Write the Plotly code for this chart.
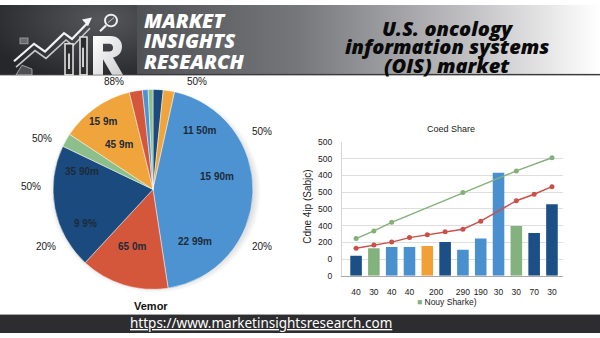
import base64
import plotly.graph_objects as go

W, H = 600, 338

# ---- pie data (shares in percent, clockwise from 12 o'clock) ----
pie_labels = ["Vendor A", "Vendor B", "Vendor C", "Vendor D", "Vendor E",
              "Vendor F", "Vendor G", "Vendor H", "Vendor I", "Vendor J"]
pie_values = [1.64, 1.83, 44.1, 14.3, 20.2, 2.19, 11.9, 2.11, 0.92, 0.78]
pie_colors = ["#1b4b7e", "#f0a43c", "#4d93d1", "#d5573b", "#1b4b7e",
              "#8cbf8c", "#f0a43c", "#d5573b", "#4d93d1", "#8cbf8c"]

pie_inner_text = ["11 50m", "15 90m", "22 99m", "65 0m", "9 9%", "35 90m", "45 9m", "15 9m"]
pie_inner_pos = [(199, 129), (217, 177), (195, 244), (132, 249), (85, 225),
                 (82, 172), (119, 144), (103, 120)]
pie_outer_text = ["88%", "50%", "50%", "50%", "50%", "20%", "20%"]
pie_outer_pos = [(114, 79), (197, 79), (262, 130), (42, 138), (31, 187), (46, 249), (262, 249)]

# ---- bar / line data ----
bar_x = [1, 2, 3, 4, 5, 6, 7, 8, 9, 10, 11, 12]
bar_values = [120, 164, 172, 172, 178, 201, 155, 222, 616, 297, 255, 427]
bar_colors = ["#1c4f86", "#83b27f", "#4a90cf", "#4a90cf", "#f29f35", "#1c4f86",
              "#4a90cf", "#4a90cf", "#4a90cf", "#83b27f", "#1c4f86", "#1c4f86"]

green_x = [1, 2, 3, 7, 10, 12]
green_values = [222, 268, 319, 497, 626, 705]

red_x = [1, 2, 3, 4, 5, 6, 7, 8, 10, 11, 12]
red_values = [164, 184, 201, 228, 245, 263, 278, 326, 448, 487, 532]

x_tick_pos = [1, 2, 3, 4, 5.5, 7, 8, 9, 10, 11, 12]
x_tick_text = ["40", "30", "40", "40", "200", "290", "190", "30", "30", "70", "30"]
y_tick_vals = [0, 100, 200, 300, 400, 500, 600, 700, 800]
y_tick_text = ["0", "0", "200", "400", "500", "500", "400", "500", "500"]


def px(x, y):
    return x / W, 1 - y / H


# ---- header / footer background artwork (logo drawn as vector shapes) ----
header_svg = f'''<svg xmlns="http://www.w3.org/2000/svg" width="600" height="338" viewBox="0 0 600 338" preserveAspectRatio="none">
<defs>
<linearGradient id="g" x1="0" y1="0" x2="1" y2="0">
<stop offset="0" stop-color="#505155"/><stop offset="0.35" stop-color="#76777b"/>
<stop offset="0.7" stop-color="#bdbdc0"/><stop offset="1" stop-color="#ffffff"/>
</linearGradient>
<radialGradient id="d" cx="0.75" cy="0.2" r="0.9">
<stop offset="0" stop-color="#56575b"/><stop offset="1" stop-color="#26272a"/>
</radialGradient>
<linearGradient id="r" x1="0" y1="0" x2="1" y2="1">
<stop offset="0" stop-color="#ffffff"/><stop offset="1" stop-color="#cfcfd2"/>
</linearGradient>
<radialGradient id="s" cx="0.5" cy="0.5" r="0.5">
<stop offset="0.9" stop-color="#000000" stop-opacity="0.18"/><stop offset="1" stop-color="#000000" stop-opacity="0"/>
</radialGradient>
</defs>
<rect x="136" y="0" width="464" height="72" fill="url(#g)"/>
<rect x="0" y="0" width="137" height="72" fill="url(#d)"/>
<rect x="0" y="71" width="600" height="1.5" fill="#3a3a3c"/>
<polyline points="14,58 34,40 45,48 64,29 72,35 88,18" fill="none" stroke="#f2f2f2" stroke-width="2.2"/>
<polyline points="16,64 35,47 46,55 66,36 73,42 90,24" fill="none" stroke="#c9c9c9" stroke-width="1.6"/>
<polygon points="92,13 82,15 88,22" fill="#f4f4f4"/>
<rect x="65" y="40" width="8" height="32" fill="#2c2c2f" stroke="#e6e6e6" stroke-width="1.5"/>
<rect x="80" y="33" width="7" height="39" fill="#2c2c2f" stroke="#e6e6e6" stroke-width="1.5"/>
<rect x="68" y="50" width="2" height="16" fill="#cfcfcf"/>
<rect x="82" y="44" width="2" height="20" fill="#cfcfcf"/>
<path fill="url(#r)" fill-rule="evenodd" d="M93,32 H110 C118,32 122,37 122,43 C122,49 118,53 113,54 L123,72 H112 L103,56 V72 H93 Z M103,40 H109 C112,40 113,42 113,44 C113,46 112,48 109,48 H103 Z"/>
<circle cx="111" cy="16" r="6" fill="none" stroke="#eeeeee" stroke-width="2"/>
<line x1="106" y1="21" x2="100" y2="27" stroke="#eeeeee" stroke-width="2.2"/>
<line x1="108" y1="18" x2="114" y2="13" stroke="#cccccc" stroke-width="1"/>
<rect x="20" y="34" width="8" height="6" fill="#6a6a6e" stroke="#aaaaaa" stroke-width="0.8"/>
<polygon points="16,72 22,62 32,66 32,72" fill="#505054" stroke="#bbbbbb" stroke-width="0.8"/>
<ellipse cx="155" cy="192" rx="106" ry="105" fill="url(#s)"/>
<rect x="0" y="319" width="600" height="19" fill="#2d2d2f"/>
</svg>'''
header_uri = "data:image/svg+xml;base64," + base64.b64encode(header_svg.encode()).decode()

fig = go.Figure()

fig.add_trace(go.Pie(
    labels=pie_labels, values=pie_values, sort=False, direction="clockwise",
    rotation=0, textinfo="none", hoverinfo="label+percent",
    marker=dict(colors=pie_colors, line=dict(color="rgba(255,255,255,0.6)", width=0.8)),
    domain=dict(x=[48 / W, 258 / W], y=[1 - 293 / H, 1 - 87 / H]),
    showlegend=False,
))

fig.add_trace(go.Bar(
    x=bar_x, y=bar_values, marker=dict(color=bar_colors, line=dict(width=0)),
    width=0.65, showlegend=False, xaxis="x", yaxis="y",
))
fig.add_trace(go.Scatter(
    x=green_x, y=green_values, mode="lines+markers",
    line=dict(color="#86b07a", width=1.4), marker=dict(color="#86b07a", size=5),
    showlegend=False,
))
fig.add_trace(go.Scatter(
    x=red_x, y=red_values, mode="lines+markers",
    line=dict(color="#c9504a", width=1.4), marker=dict(color="#c9504a", size=5),
    showlegend=False,
))

ann = []
TF = "Liberation Sans, Arial, sans-serif"


def label(x, y, text, font, **kw):
    ax, ay = px(x, y)
    d = dict(x=ax, y=ay, text=text, showarrow=False, xref="paper", yref="paper",
             xanchor="center", yanchor="middle", font=font)
    d.update(kw)
    ann.append(d)


for t, (x, y) in zip(pie_inner_text, pie_inner_pos):
    label(x, y, t, dict(family=TF, size=10, color="#1d2a3a", weight="bold"))
for t, (x, y) in zip(pie_outer_text, pie_outer_pos):
    label(x, y, t, dict(family=TF, size=10, color="#1a1a1a"))

label(151, 310, "Vemor", dict(family=TF, size=11, color="#111111", weight="bold"))

# bar chart labels
label(451, 128, "Coed Share", dict(family=TF, size=9, color="#222222"))
label(308, 208, "Cdne 4ip (Sabjc)", dict(family=TF, size=10, color="#222222"), textangle=-90)
label(447, 306, "<span style='color:#83b27f'>■</span> Nouy Sharke)",
      dict(family=TF, size=8.5, color="#222222"))

# header text
OS = "Open Sans, DejaVu Sans, sans-serif"
for t, y in zip(["MARKET", "INSIGHTS", "RESEARCH"], [16, 37, 58]):
    label(142, y, f"<i>{t}</i>", dict(family=OS, size=20, color="#ffffff", weight=800),
          xanchor="left")
for t, y in zip(["U.S. oncology", "information systems", "(OIS) market"], [24, 43, 62]):
    label(447, y, f"<i>{t}</i>", dict(family=OS, size=20, color="#0a0a0a", weight=800))

# footer link
label(261, 328, "<u>https://www.marketinsightsresearch.com</u>",
      dict(family="Noto Sans, sans-serif", size=13.5, color="#ffffff"))

fig.update_layout(
    width=W, height=H, margin=dict(l=0, r=0, t=0, b=0),
    paper_bgcolor="#ffffff", plot_bgcolor="#ffffff",
    annotations=ann,
    images=[dict(source=header_uri, xref="paper", yref="paper", x=0, y=1,
                 sizex=1, sizey=1, sizing="stretch", xanchor="left", yanchor="top",
                 layer="below")],
    bargap=0.3,
    xaxis=dict(domain=[342 / W, 563 / W], range=[0.21, 12.62], tickvals=x_tick_pos,
               ticktext=x_tick_text, showgrid=False, zeroline=False,
               showline=True, linecolor="#a8a8a8", linewidth=1,
               ticks="", ticklabelstandoff=8,
               tickfont=dict(family=TF, size=8.5, color="#1a1a1a")),
    yaxis=dict(domain=[1 - 279 / H, 1 - 141 / H], range=[0, 800], tickvals=y_tick_vals,
               ticktext=y_tick_text, showgrid=True, gridcolor="#dedede", gridwidth=1,
               zeroline=False, showline=True, linecolor="#d6d6d6",
               ticks="", ticklabelstandoff=7,
               tickfont=dict(family=TF, size=8.5, color="#1a1a1a")),
)

fig.write_html("out.html")
